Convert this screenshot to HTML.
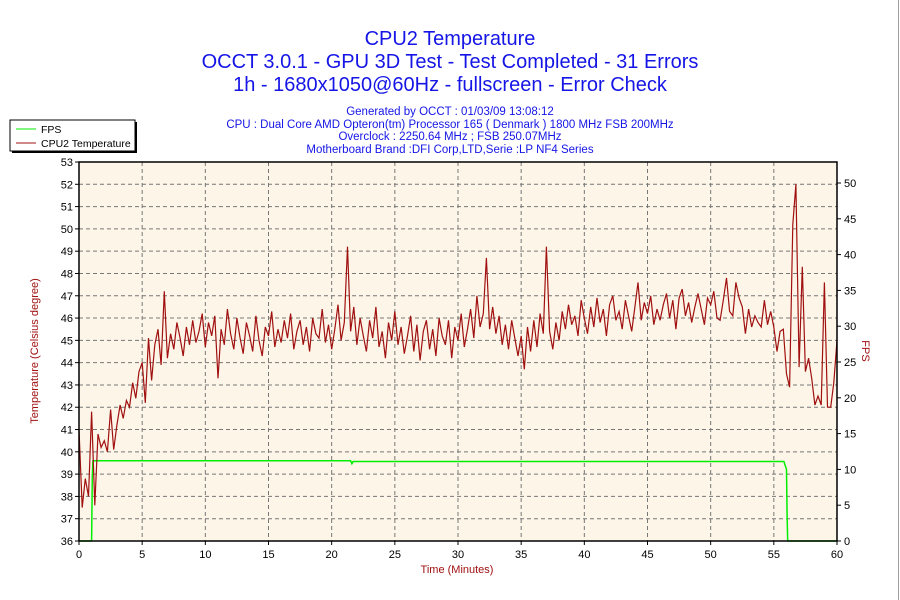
<!DOCTYPE html>
<html><head><meta charset="utf-8">
<style>
body{margin:0;background:#fff;font-family:"Liberation Sans",sans-serif;}
svg{display:block}
</style></head>
<body>
<svg id="chart" width="900" height="600" xmlns="http://www.w3.org/2000/svg">
<rect x="0" y="0" width="900" height="600" fill="#fff"/>
<line x1="898.5" y1="0" x2="898.5" y2="600" stroke="#a0a0a0"/>
<g fill="#1515e6" text-anchor="middle">
<text x="450" y="45" font-size="20">CPU2 Temperature</text>
<text x="450" y="68" font-size="20">OCCT 3.0.1 - GPU 3D Test - Test Completed - 31 Errors</text>
<text x="450" y="91" font-size="20">1h - 1680x1050@60Hz - fullscreen - Error Check</text>
<text x="450" y="115" font-size="11.5">Generated by OCCT : 01/03/09 13:08:12</text>
<text x="450" y="128" font-size="11.5">CPU : Dual Core AMD Opteron(tm) Processor 165  ( Denmark ) 1800 MHz FSB 200MHz</text>
<text x="450" y="140" font-size="11.5">Overclock : 2250.64 MHz ; FSB 250.07MHz</text>
<text x="450" y="153" font-size="11.5">Motherboard Brand :DFI Corp,LTD,Serie :LP NF4 Series</text>
</g>
<g>
<rect x="12" y="122" width="125" height="31" fill="#000"/>
<rect x="10" y="120" width="125" height="31" fill="#fff" stroke="#000"/>
<line x1="16" y1="129" x2="36" y2="129" stroke="#00ee00"/>
<text x="41" y="133" font-size="10.5">FPS</text>
<line x1="16" y1="143" x2="36" y2="143" stroke="#a01010"/>
<text x="41" y="147" font-size="10.5">CPU2 Temperature</text>
</g>
<rect x="79" y="162" width="758" height="379" fill="#fdf6e8"/>
<g id="grid"></g><g id="series"></g><g id="axes"></g>
<text x="457" y="573" font-size="11" fill="#a01010" text-anchor="middle">Time (Minutes)</text>
<text transform="translate(38,351) rotate(-90)" font-size="11" fill="#a01010" text-anchor="middle">Temperature (Celsius degree)</text>
<text transform="translate(862,351) rotate(90)" font-size="11" fill="#a01010" text-anchor="middle">FPS</text>
</svg>
<script>
const xTicks=[0,5,10,15,20,25,30,35,40,45,50,55,60];
const yTicks=[36,37,38,39,40,41,42,43,44,45,46,47,48,49,50,51,52,53];
const y2Ticks=[0,5,10,15,20,25,30,35,40,45,50];
const tempStep=0.25;
const tempValues=[41,37.5,38.8,38,41.8,37.6,40.8,40.2,40.5,40,41.9,40.1,41.2,42.1,41.5,42.3,42,43.1,42.4,43.6,44,42.2,45.1,43.2,44.8,45.5,43.9,47.2,44.2,45.3,44.6,45.8,45.1,44.3,45.6,44.8,45.9,44.9,45.4,46.2,44.7,45.8,45.2,46.1,43.3,45.5,44.8,46.4,45.3,44.6,46,45.1,44.4,45.8,45.2,44.5,46.1,45,44.3,45.6,45.2,46.3,44.7,45.5,44.9,45.9,45.1,46.2,44.6,45.4,45.9,44.8,45.6,44.5,46,45.3,45.1,46.4,44.9,45.7,44.6,45.5,46.6,45,45.8,49.2,45.4,46.5,44.8,46,45.2,44.5,45.9,45.1,46.5,44.7,45.4,44.2,45.8,45,46.3,44.8,45.6,44.4,45.2,46.1,44.5,45.7,44.1,45.4,45.9,44.6,45.5,44.3,46,45.2,44.8,45.9,44.2,45.6,45,46.2,44.7,45.5,46.4,45.1,47,45.6,46.2,48.7,45.5,46.5,45.3,46.1,44.8,45.7,44.6,45.9,45.1,44.3,45.2,43.7,45.6,44.5,45.9,44.7,46.2,45.3,49.2,45.4,44.6,45.8,45,46.3,45.5,46.6,45.7,46.1,45.2,46.8,46,45.3,46.5,45.6,46.9,45.8,46.4,45.2,46.6,47,45.9,46.3,45.5,46.8,46.1,45.4,46.5,47.6,45.9,46.7,46.2,47,45.7,46.4,45.9,46.6,47.1,46,46.8,45.5,46.9,47.3,46.1,46.7,45.8,46.5,47.1,46.4,45.7,46.9,46.6,47.2,46,45.9,46.8,47.8,46.3,46.1,47.6,46.9,46.5,45.3,46.4,45.6,46.1,45.8,45.6,46.8,45.7,46.3,45.6,44.5,45.4,45.5,43.5,42.9,50.2,52,43.8,48.3,43.6,44.2,43.3,42.1,42.5,42.1,47.6,42,42,43.1,45];
const fpsTimes=[0,1,1.05,1.1,21.5,21.6,21.7,55.8,56,56.05,56.1,60];
const fpsValues=[0,0,9,11.2,11.2,10.8,11.1,11.1,10,3.5,0,0];
const L=79,R=837,T=162,B=541;
const xs=t=>L+(t/60)*(R-L);
const ys=v=>B-(v-36)/17*(B-T);
const y2s=v=>B-v*7.16;
const NS='http://www.w3.org/2000/svg';
function mk(tag,attrs,parent){const e=document.createElementNS(NS,tag);for(const k in attrs)e.setAttribute(k,attrs[k]);parent.appendChild(e);return e;}
const grid=document.getElementById('grid'),axes=document.getElementById('axes'),series=document.getElementById('series');
xTicks.forEach(t=>{
 if(t>0&&t<60){const g=mk('line',{x1:xs(t),y1:T,x2:xs(t),y2:B,stroke:'#777','stroke-dasharray':'4,3'},grid);
 
 }
 const l=mk('text',{x:xs(t),y:B+17,'font-size':11,'text-anchor':'middle',fill:'#000'},axes);l.textContent=t;
 
 
 mk('line',{x1:xs(t),y1:B,x2:xs(t),y2:B+4,stroke:'#000'},axes);
});
yTicks.forEach(v=>{
 if(v>36&&v<53){const g=mk('line',{x1:L,y1:ys(v),x2:R,y2:ys(v),stroke:'#777','stroke-dasharray':'4,3'},grid);
 
 }
 const l=mk('text',{x:L-6,y:ys(v)+4,'font-size':11,'text-anchor':'end',fill:'#000'},axes);l.textContent=v;
 
 
 mk('line',{x1:L-4,y1:ys(v),x2:L,y2:ys(v),stroke:'#000'},axes);
});
y2Ticks.forEach(v=>{
 const l=mk('text',{x:R+7,y:y2s(v)+4,'font-size':11,'text-anchor':'start',fill:'#000'},axes);l.textContent=v;
 
 
 mk('line',{x1:R,y1:y2s(v),x2:R+4,y2:y2s(v),stroke:'#000'},axes);
});
const frame=mk('rect',{x:L,y:T,width:R-L,height:B-T,fill:'none',stroke:'#000','stroke-width':1.5},axes);


let fp='';fpsTimes.forEach((t,i)=>{fp+=(i?'L':'M')+xs(t).toFixed(1)+','+y2s(fpsValues[i]).toFixed(1);});
const fl=mk('path',{d:fp,fill:'none',stroke:'#00ee00','stroke-width':1.5},series);


let tp='';tempValues.forEach((v,i)=>{tp+=(i?'L':'M')+xs(i*tempStep).toFixed(1)+','+ys(v).toFixed(1);});
const tl=mk('path',{d:tp,fill:'none',stroke:'#a01010','stroke-width':1.2},series);


</script>
</body></html>
